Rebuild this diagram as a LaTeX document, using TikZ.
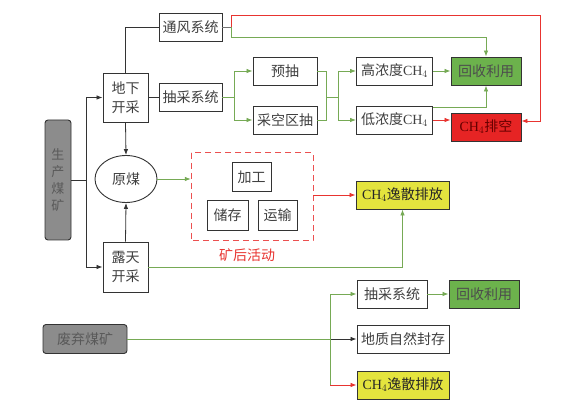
\documentclass[tikz,border=0pt]{standalone}
\usepackage{fontspec}
\setmainfont{Liberation Serif}
\newfontfamily\cjk{Noto Sans CJK SC}
\usetikzlibrary{arrows.meta,calc,shapes.geometric}
\definecolor{lgreen}{RGB}{118,170,85}
\definecolor{fgreen}{RGB}{108,178,76}
\definecolor{lred}{RGB}{232,52,48}
\definecolor{fred}{RGB}{230,36,36}
\definecolor{fyellow}{RGB}{228,228,62}
\definecolor{fgray}{RGB}{140,140,140}
\definecolor{dashred}{RGB}{236,80,80}
\tikzset{
  bx/.style={draw=black!80, line width=0.9pt, fill=white, inner sep=0pt, text=black!75,
    font=\fontsize{14}{19}\selectfont\cjk, align=center},
  gbx/.style={bx, fill=fgreen, text=black!70},
  rbx/.style={bx, fill=fred, text=red!40!black},
  ybx/.style={bx, fill=fyellow, text=black!85},
  graybx/.style={bx, fill=fgray, rounded corners=3pt, text=black!65},
  ln/.style={line width=0.8pt, draw=black!80},
  gl/.style={line width=0.8pt, draw=lgreen},
  rl/.style={line width=0.8pt, draw=lred},
  arr/.style={-{Latex[length=6pt,width=4.5pt]}},
}
\begin{document}
\begin{tikzpicture}[x=1pt,y=-1pt]
\fill[white] (0,0) rectangle (566,411);
\useasboundingbox (0,0) rectangle (566,411);

% nodes
\node[bx, minimum width=63, minimum height=28] (tf) at (190.5,27.5) {通风系统};
\node[bx, minimum width=45, minimum height=49] (dx) at (125.5,97.5) {地下\\开采};
\node[bx, minimum width=63, minimum height=28] (cc1) at (190.5,97.5) {抽采系统};
\node[bx, minimum width=64, minimum height=28] (yc) at (285,71) {预抽};
\node[bx, minimum width=64, minimum height=28] (ck) at (285,120) {采空区抽};
\node[bx, minimum width=76, minimum height=28] (gn) at (394.5,71) {高浓度{\rmfamily CH$_4$}};
\node[bx, minimum width=76, minimum height=28] (dn) at (394.5,120) {低浓度{\rmfamily CH$_4$}};
\node[gbx, minimum width=70, minimum height=28] (hs1) at (486,71) {回收利用};
\node[rbx, minimum width=70, minimum height=28] (pk) at (486,127) {{\rmfamily CH$_4$}排空};
\node[graybx, minimum width=26, minimum height=120, font=\fontsize{13}{17}\selectfont\cjk] (sc) at (58,180) {生\\产\\煤\\矿};
\node[bx, ellipse, minimum width=62, minimum height=47] (ym) at (126,179) {原煤};
\node[bx, minimum width=45, minimum height=50] (lt) at (125.5,267) {露天\\开采};
\draw[dashred, line width=1pt, dash pattern=on 6pt off 4pt] (191,153) rectangle (313,241);
\node[minimum width=122, minimum height=88, inner sep=0pt] (hz) at (252,197) {};
\node[bx, minimum width=39, minimum height=29] (jg) at (251.5,177) {加工};
\node[bx, minimum width=41, minimum height=30] (cz) at (227.5,215) {储存};
\node[bx, minimum width=39, minimum height=30] (ys) at (277.5,215) {运输};
\node[text=lred, font=\fontsize{14}{16}\selectfont\cjk] (kh) at (247,255) {矿后活动};
\node[ybx, minimum width=93, minimum height=28] (ys1) at (402.5,195) {{\rmfamily CH$_4$}逸散排放};
\node[bx, minimum width=70, minimum height=28] (cc2) at (392,294) {抽采系统};
\node[gbx, minimum width=70, minimum height=28] (hs2) at (484,294) {回收利用};
\node[bx, minimum width=92, minimum height=28] (dz) at (403,339) {地质自然封存};
\node[ybx, minimum width=92, minimum height=28] (ys2) at (403,385) {{\rmfamily CH$_4$}逸散排放};
\node[graybx, minimum width=84, minimum height=29] (fq) at (85,339) {废弃煤矿};

% connectors
\coordinate (b1) at (86,180);
\draw[ln] (sc.east) -- (b1);
\draw[ln,arr] (b1) |- (dx.west);
\draw[ln,arr] (b1) |- (lt.west);
\draw[ln] (dx.north) |- (tf.west);
\draw[ln] (dx.east) -- (dx.east -| cc1.west);
\draw[ln,arr] (dx.south) -- (ym.north);
\draw[ln,arr] (lt.north) -- (ym.south);
\draw[gl,arr] (ym.east) -- (ym.east -| hz.west);

\coordinate (s1) at (234,97.5);
\draw[gl] (cc1.east) -- (s1);
\draw[gl,arr] (s1) |- (yc.west);
\draw[gl,arr] (s1) |- (ck.west);
\coordinate (j1) at (326,97.5);
\coordinate (s2) at (338,97.5);
\draw[gl] (yc.east) -| (j1) -- (s2);
\draw[gl] (ck.east) -| (j1);
\draw[gl,arr] (s2) |- (gn.west);
\draw[gl,arr] (s2) |- (dn.west);
\draw[gl,arr] (gn.east) -- (hs1.west);
\draw[gl,arr] ([yshift=-1.5pt]dn.north east) -| (hs1.south);
\draw[rl,arr] (dn.east) -- (dn.east -| pk.west);

\coordinate (s3) at (231,27.5);
\coordinate (rt) at (231,15);
\coordinate (gt) at (231,37);
\coordinate (rc) at (540,15);
\draw[line width=0.8pt, draw=black!55] (tf.east) -- (s3);
\draw[rl,arr] (s3) -- (rt) -- (rc) |- ([yshift=6pt]pk.east);
\draw[gl,arr] (s3) -- (gt) -| (hs1.north);

\draw[rl,arr] (ys1.west -| hz.east) -- (ys1.west);
\draw[gl,arr] (lt.east) -| (ys1.south);

\coordinate (b2) at (330,339);
\coordinate (b3) at (330,385);
\draw[gl] (fq.east) -- (b2);
\draw[ln,arr] (b2) -- (dz.west);
\draw[gl,arr] (b2) |- (cc2.west);
\draw[gl] (b2) -- (b3);
\draw[rl,arr] (b3) -- (ys2.west);
\draw[gl,arr] (cc2.east) -- (hs2.west);
\end{tikzpicture}
\end{document}
